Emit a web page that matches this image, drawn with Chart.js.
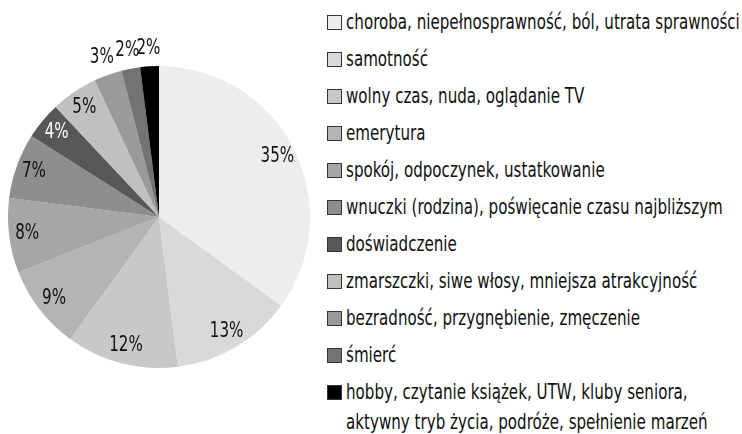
<!DOCTYPE html>
<html>
<head>
<meta charset="utf-8">
<script src="https://cdn.jsdelivr.net/npm/chart.js@4"></script>
<style>
  html, body { margin: 0; padding: 0; background: #fff; }
  #wrap { position: relative; width: 742px; height: 434px; }
  #pie { position: absolute; left: 0; top: 0; }
  #legend {
    position: absolute; left: 327px; top: 11px; width: 415px; margin: 0; padding: 0; list-style: none;
    font-family: "DejaVu Sans Condensed", "Liberation Sans Narrow", "Open Sans", sans-serif;
    font-size: 21px; color: #111;
  }
  #legend li { display: flex; align-items: flex-start; height: 37px; line-height: 22px; }
  #legend .box { width: 13px; height: 13px; border: 1px solid #333; margin: 4px 4px 0 0; flex: none; }
  #legend .txt { display: inline-block; white-space: pre; transform: scaleX(0.8); transform-origin: left top; }
  #legend li.two { line-height: 30px; margin-top: -4px; }
  #legend li.two .box { margin-top: 8px; }
</style>
</head>
<body>
<div id="wrap">
  <canvas id="pie" width="320" height="434"></canvas>
  <ul id="legend"></ul>
</div>
<script>
const categories = [
    'choroba, niepełnosprawność, ból, utrata sprawności',
    'samotność',
    'wolny czas, nuda, oglądanie TV',
    'emerytura',
    'spokój, odpoczynek, ustatkowanie',
    'wnuczki (rodzina), poświęcanie czasu najbliższym',
    'doświadczenie',
    'zmarszczki, siwe włosy, mniejsza atrakcyjność',
    'bezradność, przygnębienie, zmęczenie',
    'śmierć',
    'hobby, czytanie książek, UTW, kluby seniora,\naktywny tryb życia, podróże, spełnienie marzeń',
];
const percents = [35, 13, 12, 9, 8, 7, 4, 5, 3, 2, 2];
const sliceColors = ['#ededed', '#d9d9d9', '#c8c8c8', '#b4b4b4', '#a6a6a6', '#8e8e8e',
    '#575757', '#c0c0c0', '#9a9a9a', '#737373', '#000000'];

const labelFont = '"DejaVu Sans Condensed", "Liberation Sans Narrow", "Open Sans", sans-serif';

// etykiety procentowe: male wycinki na zewnatrz, reszta w srodku
const pctLabels = {
    id: 'pctLabels',
    afterDraw(chart) {
        const ctx = chart.ctx;
        const meta = chart.getDatasetMeta(0);
        meta.data.forEach((arc, i) => {
            const mid = (arc.startAngle + arc.endAngle) / 2;
            const small = percents[i] <= 3;
            const r = small ? arc.outerRadius + 18 : arc.outerRadius * 0.88;
            const x = arc.x + Math.cos(mid) * r;
            const y = arc.y + Math.sin(mid) * r;
            ctx.save();
            ctx.translate(x, y);
            ctx.scale(0.8, 1);
            ctx.font = '21px ' + labelFont;
            ctx.textAlign = 'center';
            ctx.textBaseline = 'middle';
            ctx.fillStyle = sliceColors[i] === '#575757' ? '#ffffff' : '#111111';
            ctx.fillText(percents[i] + '%', 0, 0);
            ctx.restore();
        });
    }
};

new Chart(document.getElementById('pie'), {
    type: 'pie',
    data: {
        labels: categories,
        datasets: [{
            data: percents,
            backgroundColor: sliceColors,
            borderWidth: 0,
        }]
    },
    options: {
        responsive: false,
        animation: false,
        layout: { padding: { left: 8, right: 10, top: 66, bottom: 66 } },
        plugins: {
            legend: { display: false },
            tooltip: { enabled: false },
        }
    },
    plugins: [pctLabels]
});

const legend = document.getElementById('legend');
categories.forEach((name, i) => {
    const li = document.createElement('li');
    if (name.includes('\n')) li.className = 'two';
    const box = document.createElement('span');
    box.className = 'box';
    box.style.background = sliceColors[i];
    const txt = document.createElement('span');
    txt.className = 'txt';
    txt.textContent = name;
    li.appendChild(box);
    li.appendChild(txt);
    legend.appendChild(li);
});
</script>
</body>
</html>
